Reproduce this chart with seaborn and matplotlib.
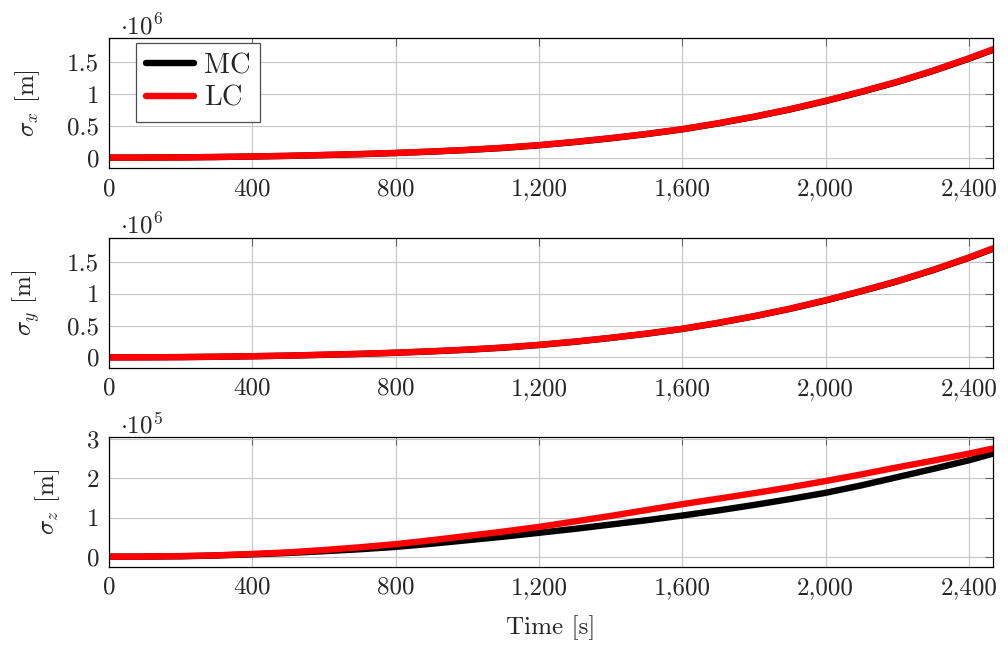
import numpy as np
import pandas as pd
import seaborn as sns
import matplotlib
matplotlib.use("Agg")
import matplotlib.pyplot as plt
from matplotlib.ticker import FixedLocator, FuncFormatter

# Sample times [s]
time_s = [0, 100, 200, 300, 400, 500, 600, 700, 800, 900, 1000, 1100, 1200,
          1300, 1400, 1500, 1600, 1700, 1800, 1900, 2000, 2100, 2200, 2300,
          2400, 2467]

# Position standard deviations [m]: Monte Carlo (MC) vs. linear covariance (LC)
sigma_x_mc = [0, 1.0e3, 3.5e3, 9.0e3, 1.7e4, 2.7e4, 4.0e4, 5.4e4, 7.2e4, 9.4e4,
              1.2e5, 1.52e5, 1.94e5, 2.45e5, 3.04e5, 3.7e5, 4.45e5, 5.38e5,
              6.42e5, 7.58e5, 8.9e5, 1.035e6, 1.19e6, 1.365e6, 1.558e6, 1.698e6]
sigma_x_lc = [0, 1.0e3, 4.0e3, 1.0e4, 1.8e4, 2.8e4, 4.2e4, 5.6e4, 7.4e4, 9.6e4,
              1.22e5, 1.55e5, 1.97e5, 2.48e5, 3.07e5, 3.73e5, 4.48e5, 5.42e5,
              6.45e5, 7.62e5, 8.95e5, 1.04e6, 1.195e6, 1.37e6, 1.565e6, 1.705e6]

sigma_y_mc = [0, 1.0e3, 3.5e3, 9.0e3, 1.7e4, 2.7e4, 4.0e4, 5.4e4, 7.2e4, 9.4e4,
              1.2e5, 1.52e5, 1.94e5, 2.45e5, 3.05e5, 3.71e5, 4.47e5, 5.4e5,
              6.45e5, 7.62e5, 8.94e5, 1.04e6, 1.196e6, 1.372e6, 1.566e6, 1.708e6]
sigma_y_lc = [0, 1.0e3, 4.0e3, 1.0e4, 1.8e4, 2.8e4, 4.2e4, 5.6e4, 7.4e4, 9.6e4,
              1.22e5, 1.55e5, 1.97e5, 2.48e5, 3.08e5, 3.74e5, 4.5e5, 5.44e5,
              6.48e5, 7.66e5, 8.99e5, 1.045e6, 1.2e6, 1.377e6, 1.572e6, 1.715e6]

sigma_z_mc = [0, 3.0e2, 1.0e3, 3.0e3, 6.0e3, 9.5e3, 1.4e4, 1.9e4, 2.5e4, 3.3e4,
              4.2e4, 5.1e4, 6.1e4, 7.1e4, 8.2e4, 9.3e4, 1.05e5, 1.18e5, 1.32e5,
              1.47e5, 1.63e5, 1.82e5, 2.03e5, 2.24e5, 2.46e5, 2.63e5]
sigma_z_lc = [0, 4.0e2, 1.5e3, 3.5e3, 7.0e3, 1.1e4, 1.7e4, 2.4e4, 3.2e4, 4.2e4,
              5.3e4, 6.4e4, 7.6e4, 9.0e4, 1.04e5, 1.19e5, 1.34e5, 1.48e5, 1.62e5,
              1.77e5, 1.93e5, 2.1e5, 2.28e5, 2.45e5, 2.63e5, 2.76e5]

methods = ["MC", "LC"]
x_ticks = [0, 400, 800, 1200, 1600, 2000, 2400]
panels = [
    (r"$\sigma_x$ [m]", sigma_x_mc, sigma_x_lc, 1e6, [0, 0.5, 1, 1.5], (-0.168, 1.88)),
    (r"$\sigma_y$ [m]", sigma_y_mc, sigma_y_lc, 1e6, [0, 0.5, 1, 1.5], (-0.168, 1.885)),
    (r"$\sigma_z$ [m]", sigma_z_mc, sigma_z_lc, 1e5, [0, 1, 2, 3], (-0.263, 3.046)),
]

sns.set_theme(style="white")
plt.rcParams["font.family"] = ["cmr10", "DejaVu Serif"]
plt.rcParams["mathtext.fontset"] = "cm"
plt.rcParams["axes.formatter.use_mathtext"] = True
plt.rcParams["axes.unicode_minus"] = False

FS = 18
palette = {"MC": "black", "LC": "red"}

fig = plt.figure(figsize=(10.08, 6.53), dpi=100)
rects = [
    [0.1081, 0.7423, 0.8770, 0.1991],
    [0.1081, 0.4364, 0.8770, 0.1998],
    [0.1081, 0.1317, 0.8770, 0.1986],
]

def thousands(v, pos):
    return f"{int(round(v)):,}"

for i, (ylabel, mc, lc, scale, yt, ylim) in enumerate(panels):
    ax = fig.add_axes(rects[i])
    df = pd.DataFrame({
        "Time": time_s * 2,
        "value": list(mc) + list(lc),
        "method": ["MC"] * len(mc) + ["LC"] * len(lc),
    })
    sns.lineplot(data=df, x="Time", y="value", hue="method", hue_order=methods,
                 palette=palette, linewidth=4.6, legend=False, ax=ax,
                 estimator=None, sort=True)
    ax.set_xlim(0, 2467)
    ax.set_ylim(ylim[0] * scale, ylim[1] * scale)
    ax.xaxis.set_major_locator(FixedLocator(x_ticks))
    ax.xaxis.set_major_formatter(FuncFormatter(thousands))
    ax.yaxis.set_major_locator(FixedLocator([t * scale for t in yt]))
    ax.yaxis.set_major_formatter(FuncFormatter(
        lambda v, pos, s=scale: f"{v / s:g}"))
    ax.grid(True, color="#c6c6c6", linewidth=0.8)
    ax.set_axisbelow(True)
    ax.tick_params(direction="in", top=True, right=True, length=6, width=0.8,
                   color="0.4", labelsize=FS, pad=7)
    for sp in ax.spines.values():
        sp.set_color("black")
        sp.set_linewidth(0.9)
    ax.set_xlabel("")
    ax.set_ylabel(ylabel, fontsize=FS, labelpad=18)
    exp = int(round(np.log10(scale)))
    ax.text(0.0124, 1.03, r"$\cdot 10^{%d}$" % exp, transform=ax.transAxes,
            fontsize=18, va="baseline", ha="left")
    if i == 0:
        handles = [plt.Line2D([], [], color=palette[m], linewidth=4.6) for m in methods]
        leg = ax.legend(handles, methods, loc="upper left",
                        bbox_to_anchor=(0.0305, 0.963), borderaxespad=0,
                        fontsize=20.5, frameon=True, fancybox=False,
                        framealpha=1, edgecolor="0.3", handlelength=1.7,
                        handletextpad=0.33, labelspacing=0.22,
                        borderpad=0.35)
        leg.get_frame().set_linewidth(0.9)
    if i == 2:
        ax.set_xlabel("Time [s]", fontsize=FS, labelpad=12)

fig.savefig("out.png", dpi=100)
